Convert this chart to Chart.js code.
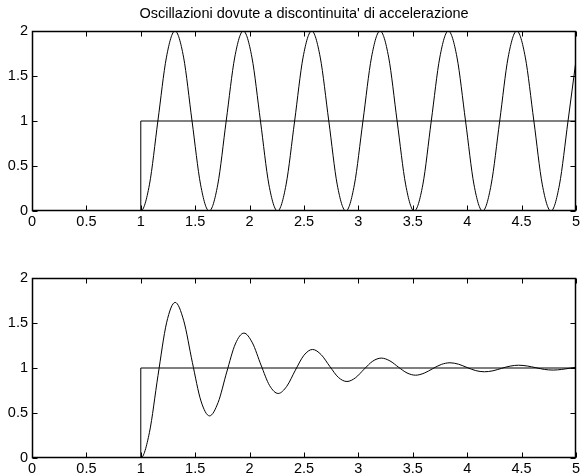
<!DOCTYPE html>
<html>
<head>
<meta charset="utf-8">
<script src="https://cdn.jsdelivr.net/npm/chart.js@4"></script>
<style>
  html, body { margin: 0; padding: 0; background: #fff; overflow: hidden; }
  #wrap { position: relative; width: 582px; height: 475px; overflow: hidden; }
  canvas { position: absolute; left: 0; }
</style>
</head>
<body>
<div id="wrap">
  <canvas id="topChart" width="582" height="237" style="top:0"></canvas>
  <canvas id="bottomChart" width="582" height="250" style="top:237px"></canvas>
</div>
<script>
// tick values
const xTicks = [0, 0.5, 1, 1.5, 2, 2.5, 3, 3.5, 4, 4.5, 5];
const yTicks = [0, 0.5, 1, 1.5, 2];

// step input (both plots)
const stepT = [0, 1, 1, 5];
const stepY = [0, 0, 1, 1];

// top: undamped oscillation
const topT = [0, 1.000, 1.079, 1.157, 1.236, 1.314, 1.393, 1.471, 1.550, 1.628, 1.707, 1.785, 1.864,
  1.942, 2.021, 2.100, 2.178, 2.257, 2.335, 2.414, 2.492, 2.571, 2.649, 2.728, 2.806, 2.885, 2.963,
  3.042, 3.121, 3.199, 3.278, 3.356, 3.435, 3.513, 3.592, 3.670, 3.749, 3.827, 3.906, 3.985, 4.063,
  4.142, 4.220, 4.299, 4.377, 4.456, 4.534, 4.613, 4.691, 4.770, 4.848, 4.927, 5.000];
const topY = [0,
  0, 0.29, 1, 1.71, 2, 1.71, 1, 0.29,
  0, 0.29, 1, 1.71, 2, 1.71, 1, 0.29,
  0, 0.29, 1, 1.71, 2, 1.71, 1, 0.29,
  0, 0.29, 1, 1.71, 2, 1.71, 1, 0.29,
  0, 0.29, 1, 1.71, 2, 1.71, 1, 0.29,
  0, 0.29, 1, 1.71, 2, 1.71, 1, 0.29,
  0, 0.29, 1,
  1.67];

// bottom: damped oscillation
const botT = [0, 1.000, 1.079, 1.158, 1.237, 1.316, 1.395, 1.474, 1.553, 1.632, 1.711, 1.790, 1.869,
  1.948, 2.026, 2.105, 2.184, 2.263, 2.342, 2.421, 2.500, 2.579, 2.658, 2.737, 2.816, 2.895, 2.974,
  3.053, 3.132, 3.211, 3.290, 3.369, 3.447, 3.526, 3.605, 3.684, 3.763, 3.842, 3.921, 4.000, 4.079,
  4.158, 4.237, 4.316, 4.395, 4.474, 4.553, 4.632, 4.711, 4.790, 4.868, 4.947, 5.000];
const botY = [0, 0, 0.281, 0.915, 1.502, 1.729, 1.524, 1.062, 0.634, 0.468, 0.618, 0.955, 1.267,
  1.388, 1.279, 1.033, 0.805, 0.717, 0.797, 0.976, 1.142, 1.206, 1.148, 1.018, 0.896, 0.850, 0.892,
  0.987, 1.076, 1.110, 1.079, 1.009, 0.945, 0.920, 0.943, 0.993, 1.040, 1.058, 1.042, 1.005, 0.971,
  0.958, 0.969, 0.996, 1.021, 1.031, 1.022, 1.003, 0.984, 0.977, 0.984, 0.998, 1.008];

const FONT = { family: '"Liberation Sans", Arial, Helvetica, sans-serif', size: 14.5 };

const toPoints = (xs, ys) => xs.map((x, i) => ({ x, y: ys[i] }));

// box + inward ticks on all sides, optional title
const framePlugin = {
  id: 'frame',
  afterDraw(chart, args, opts) {
    const { ctx, chartArea: a, scales: { x, y } } = chart;
    const L = Math.round(a.left) + 0.5, R = Math.round(a.right) - 0.5;
    const T = Math.round(a.top) + 0.5, B = Math.round(a.bottom) - 0.5;
    ctx.save();
    ctx.strokeStyle = '#000';
    ctx.lineWidth = 1;
    ctx.beginPath();
    x.ticks.forEach(t => {
      const px = Math.round(x.getPixelForValue(t.value)) + 0.5;
      ctx.moveTo(px, T); ctx.lineTo(px, T + 5);
      ctx.moveTo(px, B); ctx.lineTo(px, B - 5);
    });
    y.ticks.forEach(t => {
      const py = Math.round(y.getPixelForValue(t.value)) + 0.5;
      ctx.moveTo(L, py); ctx.lineTo(L + 5, py);
      ctx.moveTo(R, py); ctx.lineTo(R - 5, py);
    });
    ctx.stroke();
    ctx.lineWidth = 1.5;
    ctx.strokeRect(L, T, R - L, B - T);
    if (opts.title) {
      ctx.fillStyle = '#000';
      ctx.font = `${FONT.size}px ${FONT.family}`;
      ctx.textAlign = 'center';
      ctx.textBaseline = 'middle';
      ctx.fillText(opts.title, (a.left + a.right) / 2, 14);
    }
    ctx.restore();
  }
};

function makeChart(id, curveT, curveY, padTop, xAxisH, title) {
  return new Chart(document.getElementById(id), {
    type: 'line',
    data: {
      datasets: [
        {
          data: toPoints(stepT, stepY),
          borderColor: '#000',
          borderWidth: 1,
          pointRadius: 0,
          tension: 0
        },
        {
          data: toPoints(curveT, curveY),
          borderColor: '#000',
          borderWidth: 1,
          pointRadius: 0,
          cubicInterpolationMode: 'monotone'
        }
      ]
    },
    options: {
      responsive: false,
      animation: false,
      devicePixelRatio: 1,
      layout: { padding: { top: padTop, right: 6, left: 0, bottom: 0 } },
      plugins: {
        legend: { display: false },
        tooltip: { enabled: false },
        frame: { title }
      },
      scales: {
        x: {
          type: 'linear',
          min: 0, max: 5,
          grid: { display: false, drawTicks: false },
          border: { display: false },
          afterBuildTicks: s => { s.ticks = xTicks.map(v => ({ value: v })); },
          afterFit: s => { s.height = xAxisH; },
          ticks: { color: '#000', font: FONT, padding: 2, maxRotation: 0, autoSkip: false, callback: v => String(v) }
        },
        y: {
          min: 0, max: 2,
          grid: { display: false, drawTicks: false },
          border: { display: false },
          afterBuildTicks: s => { s.ticks = yTicks.map(v => ({ value: v })); },
          afterFit: s => { s.width = 32; },
          ticks: { color: '#000', font: FONT, padding: 4, autoSkip: false, callback: v => String(v) }
        }
      }
    },
    plugins: [framePlugin]
  });
}

makeChart('topChart', topT, topY, 31, 26, "Oscillazioni dovute a discontinuita' di accelerazione");
makeChart('bottomChart', botT, botY, 41, 29, '');
</script>
</body>
</html>
